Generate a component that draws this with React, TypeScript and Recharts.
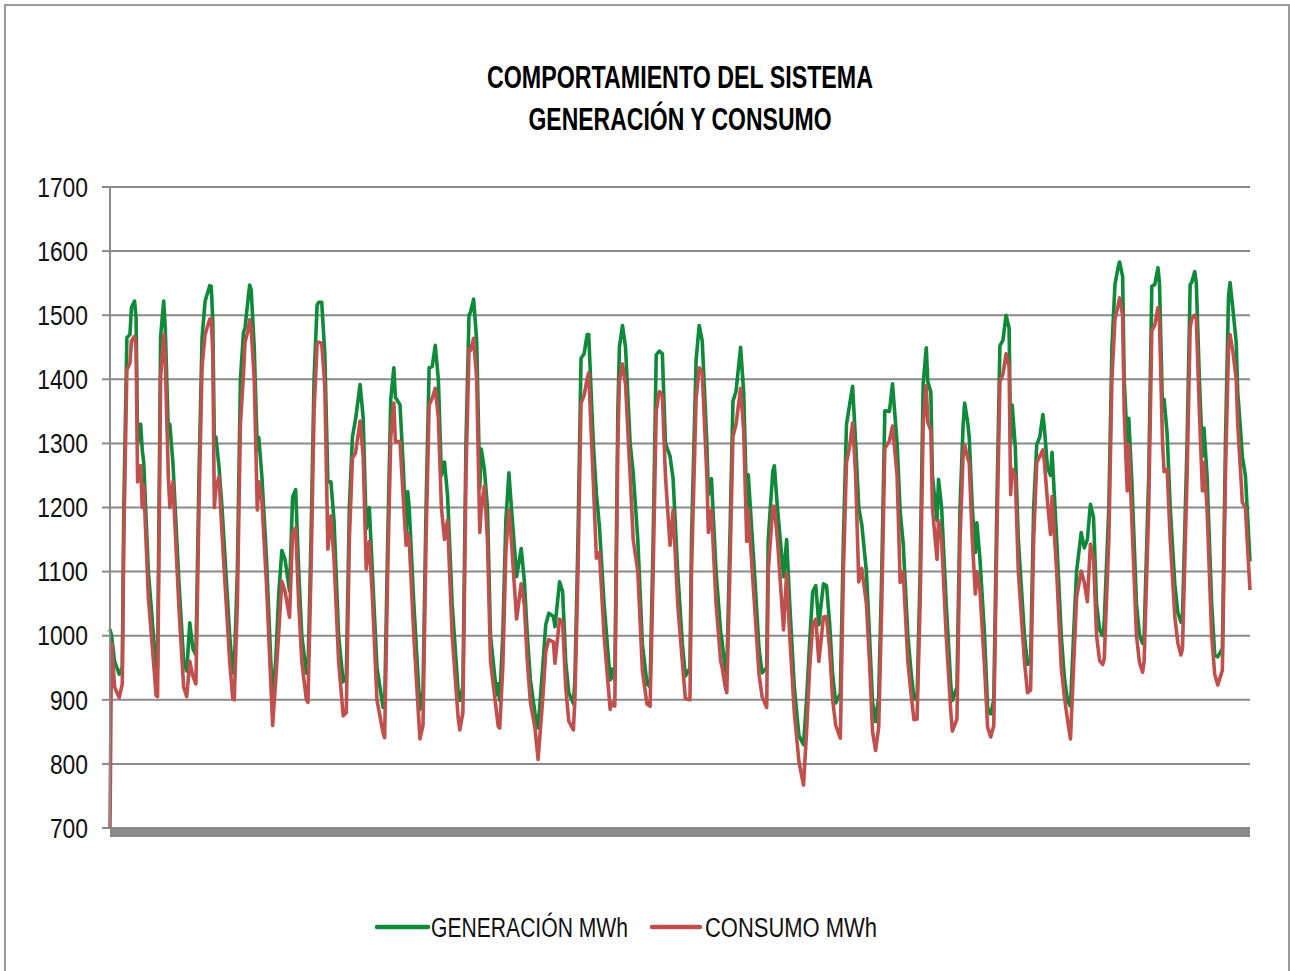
import React from 'react';
import { LineChart, Line, XAxis, YAxis, CartesianGrid } from 'recharts';

// Hour index within the month (31 days x 24 h)
const horas = [
  0, 1, 3, 6, 8, 9, 11, 13, 14, 16, 17, 18, 20, 21, 22, 25, 29, 30, 31, 33, 35, 36, 38, 39, 41, 45, 48, 50, 52, 54, 56, 58, 60, 62, 65, 66, 67, 68, 69, 71, 73, 78, 80, 81, 83, 85, 87, 88, 90, 91, 92, 94, 96, 97, 99,
  102, 105, 106, 108, 110, 112, 114, 117, 119, 121, 123, 125, 128, 129, 131, 133, 135, 136, 138, 140, 142, 144, 146, 149, 152, 154, 156, 158, 160, 163, 165, 167, 169, 171, 174, 178, 179, 181, 183, 185, 186, 189, 191, 193, 194, 195, 198,
  202, 204, 206, 208, 210, 212, 214, 216, 218, 220, 223, 227, 228, 230, 232, 234, 235, 237, 239, 241, 242, 244, 246, 248, 252, 253, 254, 256, 258, 260, 261, 265, 268, 270, 272, 274, 277, 279, 282, 284, 286, 289, 290, 293, 295, 297, 299,
  302, 303, 305, 307, 309, 311, 312, 315, 317, 319, 322, 326, 327, 329, 331, 332, 334, 336, 339, 341, 344, 347, 350, 352, 354, 356, 358, 360, 362, 365, 367, 370, 373, 375, 378, 379, 382, 384, 386, 389, 390, 392, 395, 398, 399,
  401, 402, 404, 406, 408, 411, 413, 415, 416, 420, 423, 425, 428, 429, 432, 433, 435, 439, 441, 443, 446, 449, 452, 454, 456, 458, 460, 462, 465, 467, 469, 471, 473, 476, 478, 480, 482, 484, 486, 488, 490, 493, 495, 497, 499,
  501, 503, 505, 508, 510, 513, 515, 517, 520, 522, 524, 526, 528, 530, 532, 533, 535, 536, 539, 540, 542, 545, 548, 549, 552, 554, 556, 557, 559, 560, 562, 564, 565, 567, 570, 572, 574, 576, 578, 580, 582, 584, 586, 587, 588, 590, 592, 596, 598, 600,
  602, 604, 606, 608, 609, 611, 613, 614, 617, 620, 622, 624, 626, 628, 630, 633, 635, 637, 639, 641, 643, 645, 647, 648, 651, 653, 655, 657, 658, 660, 661, 663, 664, 666, 669, 671, 673, 674, 677, 679, 681, 683, 684, 686, 687, 689, 691, 694, 696, 698, 699,
  702, 704, 705, 707, 708, 710, 712, 713, 715, 718, 720, 722, 725, 727, 729, 730, 732, 734, 735, 737, 738, 740, 743,
];

const generacion = [
  1010, 1000, 960, 940, 950, 1200, 1465, 1470, 1512, 1522, 1495, 1300, 1330, 1290, 1270, 1100, 980, 950, 950, 1467, 1522, 1480, 1320, 1330, 1270, 1080, 960, 945, 1020, 980, 970, 1250, 1465, 1522, 1546, 1545, 1490, 1300, 1310, 1265, 1200, 1000, 942, 950, 1100, 1400, 1473, 1480, 1525, 1547, 1540, 1450, 1290, 1309, 1248,
  1120, 950, 905, 960, 1066, 1133, 1120, 1070, 1216, 1228, 1100, 1000, 942, 940, 1150, 1400, 1516, 1520, 1520, 1440, 1240, 1240, 1180, 1000, 928, 935, 1200, 1310, 1337, 1392, 1340, 1167, 1200, 1100, 950, 888, 890, 1150, 1369, 1418, 1372, 1360, 1270, 1160, 1225, 1200, 1050,
  885, 914, 1200, 1418, 1420, 1453, 1400, 1250, 1271, 1219, 1050, 910, 899, 920, 1300, 1500, 1505, 1525, 1460, 1230, 1291, 1260, 1200, 1000, 908, 925, 899, 1000, 1180, 1254, 1220, 1092, 1136, 1087, 1000, 931, 879, 856, 950, 1017, 1035, 1030, 1014, 1084, 1069, 960, 911,
  894, 931, 1150, 1433, 1440, 1470, 1470, 1300, 1222, 1170, 1050, 931, 948, 930, 1350, 1450, 1484, 1450, 1300, 1254, 1150, 986, 925, 920, 1150, 1438, 1444, 1440, 1300, 1280, 1245, 1100, 988, 937, 950, 1150, 1430, 1484, 1460, 1300, 1220, 1245, 1100, 1006, 990,
  948, 940, 1150, 1366, 1381, 1450, 1380, 1200, 1251, 1100, 980, 942, 950, 1150, 1257, 1265, 1200, 1092, 1150, 1050, 920, 844, 830, 900, 990, 1069, 1078, 1017, 1081, 1078, 1020, 939, 895, 910, 1150, 1329, 1360, 1389, 1300, 1200, 1173, 1100, 1000, 896, 866,
  905, 1100, 1351, 1350, 1393, 1300, 1193, 1143, 1000, 946, 902, 900, 1100, 1393, 1449, 1396, 1380, 1250, 1180, 1244, 1200, 1050, 923, 899, 920, 1200, 1327, 1363, 1333, 1310, 1200, 1130, 1176, 1120, 1000, 887, 878, 900, 1200, 1452, 1461, 1500, 1480, 1300, 1360, 1295, 1150, 1000, 955, 960,
  1200, 1298, 1310, 1345, 1324, 1262, 1250, 1286, 1150, 1000, 935, 900, 890, 1000, 1101, 1161, 1137, 1150, 1205, 1185, 1050, 1009, 1000, 1021, 1200, 1450, 1548, 1574, 1583, 1560, 1400, 1300, 1339, 1240, 1050, 1000, 988, 1000, 1250, 1545, 1548, 1574, 1550, 1350, 1369, 1315, 1200, 1080, 1036, 1021, 1030,
  1300, 1548, 1551, 1568, 1550, 1400, 1280, 1324, 1250, 1050, 970, 967, 980, 1300, 1530, 1551, 1506, 1458, 1380, 1315, 1280, 1250, 1116,
];

const consumo = [
  700, 988, 920, 903, 925, 1150, 1415, 1425, 1460, 1467, 1450, 1240, 1265, 1200, 1235, 1060, 940, 907, 905, 1404, 1470, 1430, 1250, 1200, 1240, 1040, 920, 905, 960, 937, 925, 1200, 1420, 1470, 1494, 1495, 1440, 1200, 1230, 1248, 1160, 960, 902, 900, 1050, 1330, 1407, 1458, 1476, 1493, 1480, 1400, 1196, 1240, 1210,
  1080, 915, 860, 930, 1006, 1085, 1070, 1029, 1160, 1168, 1050, 960, 900, 896, 1100, 1350, 1456, 1458, 1456, 1390, 1135, 1187, 1120, 960, 875, 880, 1150, 1277, 1285, 1335, 1280, 1104, 1147, 1060, 900, 848, 841, 1100, 1310, 1363, 1303, 1303, 1220, 1141, 1160, 1150, 1000,
  839, 860, 1150, 1360, 1370, 1386, 1340, 1200, 1150, 1180, 1000, 870, 853, 880, 1250, 1447, 1445, 1464, 1400, 1161, 1200, 1234, 1150, 960, 879, 859, 856, 950, 1130, 1196, 1170, 1026, 1081, 1049, 960, 896, 856, 807, 900, 975, 994, 990, 957, 1026, 1020, 920, 867,
  853, 900, 1100, 1363, 1375, 1401, 1410, 1240, 1121, 1130, 1000, 885, 896, 890, 1300, 1398, 1424, 1392, 1250, 1150, 1100, 945, 893, 890, 1100, 1350, 1381, 1375, 1250, 1141, 1196, 1050, 960, 902, 900, 1100, 1370, 1418, 1410, 1250, 1161, 1196, 1050, 960, 950,
  920, 911, 1100, 1311, 1329, 1386, 1320, 1147, 1196, 1050, 940, 905, 888, 1100, 1202, 1202, 1150, 1009, 1098, 1000, 880, 804, 767, 850, 950, 1017, 1026, 960, 1029, 1030, 980, 900, 860, 840, 1100, 1270, 1294, 1332, 1250, 1084, 1105, 1050, 960, 850, 821,
  857, 1050, 1292, 1304, 1327, 1250, 1083, 1100, 960, 911, 869, 870, 1050, 1330, 1390, 1333, 1320, 1200, 1119, 1180, 1150, 1000, 881, 851, 870, 1150, 1280, 1298, 1277, 1270, 1150, 1065, 1100, 1070, 950, 857, 842, 860, 1150, 1396, 1408, 1440, 1420, 1220, 1260, 1250, 1100, 960, 911, 915,
  1150, 1270, 1280, 1290, 1271, 1210, 1158, 1217, 1100, 950, 905, 870, 839, 950, 1060, 1101, 1083, 1053, 1143, 1120, 1000, 961, 955, 964, 1150, 1400, 1494, 1515, 1527, 1500, 1350, 1226, 1298, 1180, 1000, 958, 943, 960, 1200, 1476, 1485, 1512, 1490, 1300, 1256, 1260, 1150, 1030, 988, 970, 980,
  1250, 1480, 1494, 1500, 1495, 1350, 1226, 1270, 1200, 1000, 940, 923, 946, 1250, 1450, 1470, 1440, 1400, 1330, 1250, 1208, 1200, 1071,
];

const ticksY = [700, 800, 900, 1000, 1100, 1200, 1300, 1400, 1500, 1600, 1700];
const titulo = ['COMPORTAMIENTO DEL SISTEMA', 'GENERACIÓN Y CONSUMO'];
const nombresSeries = ['GENERACIÓN MWh', 'CONSUMO MWh'];
const coloresSeries = ['#0e8a3a', '#c0504d'];

const data = horas.map((h, i) => ({ hora: h, generacion: generacion[i], consumo: consumo[i] }));

const FONT = "'Liberation Sans Narrow', 'Arial Narrow', 'Liberation Sans', sans-serif";

const TickY = (props: any) => {
  const { x, y, payload } = props;
  const label = String(payload.value);
  return (
    <text
      x={x}
      y={y}
      dy="0.36em"
      textAnchor="end"
      fontFamily={FONT}
      fontSize={27}
      fill="#111"
      textLength={label.length * 12.7}
      lengthAdjust="spacingAndGlyphs"
    >
      {label}
    </text>
  );
};

export default function App() {
  return (
    <div style={{ position: 'fixed', left: 0, top: 0, width: 1290, height: 971, overflow: 'hidden', background: '#ffffff' }}>
      <div style={{ position: 'absolute', left: 4, top: 4, width: 1286, height: 1000, border: '2px solid #9a9a9a', boxSizing: 'border-box' }} />
      <LineChart
        width={1290}
        height={971}
        data={data}
        margin={{ top: 187, right: 40, bottom: 133, left: 0 }}
        style={{ position: 'absolute', left: 0, top: 0 }}
      >
        <CartesianGrid vertical={false} stroke="#8a8a8a" strokeWidth={2} />
        <XAxis
          dataKey="hora"
          type="number"
          domain={[0, 743]}
          tick={false}
          tickLine={false}
          height={10}
          axisLine={{ stroke: '#8a8a8a', strokeWidth: 9, transform: 'translate(0,4.5)' }}
        />
        <YAxis
          domain={[700, 1700]}
          ticks={ticksY}
          interval={0}
          width={110}
          tickSize={8}
          tickMargin={14}
          axisLine={{ stroke: '#8a8a8a', strokeWidth: 2 }}
          tickLine={{ stroke: '#8a8a8a', strokeWidth: 2 }}
          tick={<TickY />}
        />
        <Line type="linear" dataKey="generacion" name={nombresSeries[0]} stroke={coloresSeries[0]} strokeWidth={3.6} strokeLinejoin="round" dot={false} isAnimationActive={false} />
        <Line type="linear" dataKey="consumo" name={nombresSeries[1]} stroke={coloresSeries[1]} strokeWidth={3.6} strokeLinejoin="round" dot={false} isAnimationActive={false} />
      </LineChart>
      <svg width={1290} height={971} style={{ position: 'absolute', left: 0, top: 0, pointerEvents: 'none' }}>
        <text x={680} y={88} textAnchor="middle" fontFamily={FONT} fontWeight="bold" fontSize={32} fill="#000" textLength={386} lengthAdjust="spacingAndGlyphs">{titulo[0]}</text>
        <text x={680} y={130} textAnchor="middle" fontFamily={FONT} fontWeight="bold" fontSize={32} fill="#000" textLength={303} lengthAdjust="spacingAndGlyphs">{titulo[1]}</text>
        <line x1={377} y1={927} x2={428} y2={927} stroke={coloresSeries[0]} strokeWidth={4.5} strokeLinecap="round" />
        <text x={431} y={937} fontFamily={FONT} fontSize={27} fill="#111" textLength={197} lengthAdjust="spacingAndGlyphs">{nombresSeries[0]}</text>
        <line x1={652} y1={927} x2={700} y2={927} stroke={coloresSeries[1]} strokeWidth={4.5} strokeLinecap="round" />
        <text x={705} y={937} fontFamily={FONT} fontSize={27} fill="#111" textLength={172} lengthAdjust="spacingAndGlyphs">{nombresSeries[1]}</text>
      </svg>
    </div>
  );
}
